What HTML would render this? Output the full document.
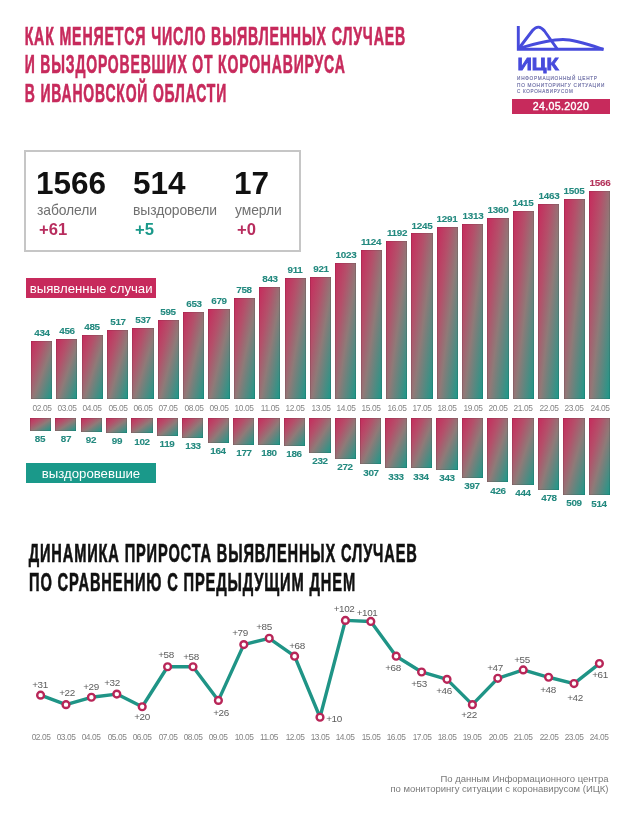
<!DOCTYPE html>
<html><head><meta charset="utf-8"><style>
html,body{margin:0;padding:0;background:#fff;}
body{width:635px;height:819px;position:relative;overflow:hidden;font-family:"Liberation Sans", sans-serif;}
.abs{position:absolute;left:0;top:0;}
.t{position:absolute;white-space:nowrap;line-height:1;will-change:transform;}
.bar{position:absolute;background:linear-gradient(to bottom right, #c72a5c 0%, #b4506a 30%, #8f7a78 55%, #1a998a 100%);box-shadow:inset 0 0 0 0.6px rgba(0,0,0,0.18);}
</style></head><body>
<div class="abs" style="left:512px;top:98.8px;width:97.5px;height:14.8px;background:#c72a5c"></div>
<div class="t" style="left:460.90px;top:101.22px;width:200px;text-align:center;font-size:10.6px;color:#fff;font-weight:normal;letter-spacing:0.35px;-webkit-text-stroke:0.4px #fff">24.05.2020</div>
<div class="abs" style="left:24px;top:150px;width:273px;height:98px;border:2px solid #c6c6c6"></div>
<div class="t" style="left:36.2px;top:167.79px;font-size:31.5px;font-weight:bold;color:#111">1566</div>
<div class="t" style="left:37px;top:203.77px;font-size:13.9px;color:#707070;letter-spacing:-0.1px">заболели</div>
<div class="t" style="left:38.6px;top:221.97px;font-size:16.6px;font-weight:bold;color:#b82d5e">+61</div>
<div class="t" style="left:132.6px;top:167.79px;font-size:31.5px;font-weight:bold;color:#111">514</div>
<div class="t" style="left:133.4px;top:203.77px;font-size:13.9px;color:#707070;letter-spacing:-0.1px">выздоровели</div>
<div class="t" style="left:135.0px;top:221.97px;font-size:16.6px;font-weight:bold;color:#1a998a">+5</div>
<div class="t" style="left:234.2px;top:167.79px;font-size:31.5px;font-weight:bold;color:#111">17</div>
<div class="t" style="left:235px;top:203.77px;font-size:13.9px;color:#707070;letter-spacing:-0.1px">умерли</div>
<div class="t" style="left:236.6px;top:221.97px;font-size:16.6px;font-weight:bold;color:#b82d5e">+0</div>
<div class="abs" style="left:26px;top:278.3px;width:130.3px;height:19.6px;background:#c72a5c"></div>
<div class="t" style="left:26px;top:282.20px;width:130.3px;text-align:center;font-size:13.2px;color:#fff;transform:scaleY(1.0);transform-origin:50% 11.17px">выявленные случаи</div>
<div class="abs" style="left:26px;top:463px;width:130px;height:20.4px;background:#1a998a"></div>
<div class="t" style="left:26px;top:467.20px;width:130px;text-align:center;font-size:13.2px;color:#fff;transform:scaleY(1.0);transform-origin:50% 11.17px">выздоровевшие</div>
<div class="bar" style="left:30.90px;top:341.43px;width:21.2px;height:57.77px"></div>
<div class="t" style="left:-58.50px;top:328.44px;width:200px;text-align:center;font-size:9.9px;color:#23897f;font-weight:bold;letter-spacing:-0.3px;-webkit-text-stroke:0.1px">434</div>
<div class="t" style="left:-58.50px;top:403.80px;width:200px;text-align:center;font-size:8.4px;color:#858585;font-weight:normal;letter-spacing:-0.4px">02.05</div>
<div class="bar" style="left:56.26px;top:338.51px;width:21.2px;height:60.69px"></div>
<div class="t" style="left:-33.14px;top:325.51px;width:200px;text-align:center;font-size:9.9px;color:#23897f;font-weight:bold;letter-spacing:-0.3px;-webkit-text-stroke:0.1px">456</div>
<div class="t" style="left:-33.14px;top:403.80px;width:200px;text-align:center;font-size:8.4px;color:#858585;font-weight:normal;letter-spacing:-0.4px">03.05</div>
<div class="bar" style="left:81.63px;top:334.65px;width:21.2px;height:64.55px"></div>
<div class="t" style="left:-7.77px;top:321.65px;width:200px;text-align:center;font-size:9.9px;color:#23897f;font-weight:bold;letter-spacing:-0.3px;-webkit-text-stroke:0.1px">485</div>
<div class="t" style="left:-7.77px;top:403.80px;width:200px;text-align:center;font-size:8.4px;color:#858585;font-weight:normal;letter-spacing:-0.4px">04.05</div>
<div class="bar" style="left:106.99px;top:330.39px;width:21.2px;height:68.81px"></div>
<div class="t" style="left:17.59px;top:317.40px;width:200px;text-align:center;font-size:9.9px;color:#23897f;font-weight:bold;letter-spacing:-0.3px;-webkit-text-stroke:0.1px">517</div>
<div class="t" style="left:17.59px;top:403.80px;width:200px;text-align:center;font-size:8.4px;color:#858585;font-weight:normal;letter-spacing:-0.4px">05.05</div>
<div class="bar" style="left:132.36px;top:327.73px;width:21.2px;height:71.47px"></div>
<div class="t" style="left:42.96px;top:314.73px;width:200px;text-align:center;font-size:9.9px;color:#23897f;font-weight:bold;letter-spacing:-0.3px;-webkit-text-stroke:0.1px">537</div>
<div class="t" style="left:42.96px;top:403.80px;width:200px;text-align:center;font-size:8.4px;color:#858585;font-weight:normal;letter-spacing:-0.4px">06.05</div>
<div class="bar" style="left:157.72px;top:320.01px;width:21.2px;height:79.19px"></div>
<div class="t" style="left:68.32px;top:307.01px;width:200px;text-align:center;font-size:9.9px;color:#23897f;font-weight:bold;letter-spacing:-0.3px;-webkit-text-stroke:0.1px">595</div>
<div class="t" style="left:68.32px;top:403.80px;width:200px;text-align:center;font-size:8.4px;color:#858585;font-weight:normal;letter-spacing:-0.4px">07.05</div>
<div class="bar" style="left:183.08px;top:312.29px;width:21.2px;height:86.91px"></div>
<div class="t" style="left:93.68px;top:299.29px;width:200px;text-align:center;font-size:9.9px;color:#23897f;font-weight:bold;letter-spacing:-0.3px;-webkit-text-stroke:0.1px">653</div>
<div class="t" style="left:93.68px;top:403.80px;width:200px;text-align:center;font-size:8.4px;color:#858585;font-weight:normal;letter-spacing:-0.4px">08.05</div>
<div class="bar" style="left:208.45px;top:308.83px;width:21.2px;height:90.37px"></div>
<div class="t" style="left:119.05px;top:295.83px;width:200px;text-align:center;font-size:9.9px;color:#23897f;font-weight:bold;letter-spacing:-0.3px;-webkit-text-stroke:0.1px">679</div>
<div class="t" style="left:119.05px;top:403.80px;width:200px;text-align:center;font-size:8.4px;color:#858585;font-weight:normal;letter-spacing:-0.4px">09.05</div>
<div class="bar" style="left:233.81px;top:298.31px;width:21.2px;height:100.89px"></div>
<div class="t" style="left:144.41px;top:285.32px;width:200px;text-align:center;font-size:9.9px;color:#23897f;font-weight:bold;letter-spacing:-0.3px;-webkit-text-stroke:0.1px">758</div>
<div class="t" style="left:144.41px;top:403.80px;width:200px;text-align:center;font-size:8.4px;color:#858585;font-weight:normal;letter-spacing:-0.4px">10.05</div>
<div class="bar" style="left:259.18px;top:287.00px;width:21.2px;height:112.20px"></div>
<div class="t" style="left:169.78px;top:274.00px;width:200px;text-align:center;font-size:9.9px;color:#23897f;font-weight:bold;letter-spacing:-0.3px;-webkit-text-stroke:0.1px">843</div>
<div class="t" style="left:169.78px;top:403.80px;width:200px;text-align:center;font-size:8.4px;color:#858585;font-weight:normal;letter-spacing:-0.4px">11.05</div>
<div class="bar" style="left:284.54px;top:277.95px;width:21.2px;height:121.25px"></div>
<div class="t" style="left:195.14px;top:264.95px;width:200px;text-align:center;font-size:9.9px;color:#23897f;font-weight:bold;letter-spacing:-0.3px;-webkit-text-stroke:0.1px">911</div>
<div class="t" style="left:195.14px;top:403.80px;width:200px;text-align:center;font-size:8.4px;color:#858585;font-weight:normal;letter-spacing:-0.4px">12.05</div>
<div class="bar" style="left:309.90px;top:276.61px;width:21.2px;height:122.59px"></div>
<div class="t" style="left:220.50px;top:263.62px;width:200px;text-align:center;font-size:9.9px;color:#23897f;font-weight:bold;letter-spacing:-0.3px;-webkit-text-stroke:0.1px">921</div>
<div class="t" style="left:220.50px;top:403.80px;width:200px;text-align:center;font-size:8.4px;color:#858585;font-weight:normal;letter-spacing:-0.4px">13.05</div>
<div class="bar" style="left:335.27px;top:263.04px;width:21.2px;height:136.16px"></div>
<div class="t" style="left:245.87px;top:250.05px;width:200px;text-align:center;font-size:9.9px;color:#23897f;font-weight:bold;letter-spacing:-0.3px;-webkit-text-stroke:0.1px">1023</div>
<div class="t" style="left:245.87px;top:403.80px;width:200px;text-align:center;font-size:8.4px;color:#858585;font-weight:normal;letter-spacing:-0.4px">14.05</div>
<div class="bar" style="left:360.63px;top:249.60px;width:21.2px;height:149.60px"></div>
<div class="t" style="left:271.23px;top:236.60px;width:200px;text-align:center;font-size:9.9px;color:#23897f;font-weight:bold;letter-spacing:-0.3px;-webkit-text-stroke:0.1px">1124</div>
<div class="t" style="left:271.23px;top:403.80px;width:200px;text-align:center;font-size:8.4px;color:#858585;font-weight:normal;letter-spacing:-0.4px">15.05</div>
<div class="bar" style="left:386.00px;top:240.54px;width:21.2px;height:158.66px"></div>
<div class="t" style="left:296.60px;top:227.55px;width:200px;text-align:center;font-size:9.9px;color:#23897f;font-weight:bold;letter-spacing:-0.3px;-webkit-text-stroke:0.1px">1192</div>
<div class="t" style="left:296.60px;top:403.80px;width:200px;text-align:center;font-size:8.4px;color:#858585;font-weight:normal;letter-spacing:-0.4px">16.05</div>
<div class="bar" style="left:411.36px;top:233.49px;width:21.2px;height:165.71px"></div>
<div class="t" style="left:321.96px;top:220.50px;width:200px;text-align:center;font-size:9.9px;color:#23897f;font-weight:bold;letter-spacing:-0.3px;-webkit-text-stroke:0.1px">1245</div>
<div class="t" style="left:321.96px;top:403.80px;width:200px;text-align:center;font-size:8.4px;color:#858585;font-weight:normal;letter-spacing:-0.4px">17.05</div>
<div class="bar" style="left:436.72px;top:227.37px;width:21.2px;height:171.83px"></div>
<div class="t" style="left:347.32px;top:214.38px;width:200px;text-align:center;font-size:9.9px;color:#23897f;font-weight:bold;letter-spacing:-0.3px;-webkit-text-stroke:0.1px">1291</div>
<div class="t" style="left:347.32px;top:403.80px;width:200px;text-align:center;font-size:8.4px;color:#858585;font-weight:normal;letter-spacing:-0.4px">18.05</div>
<div class="bar" style="left:462.09px;top:224.44px;width:21.2px;height:174.76px"></div>
<div class="t" style="left:372.69px;top:211.45px;width:200px;text-align:center;font-size:9.9px;color:#23897f;font-weight:bold;letter-spacing:-0.3px;-webkit-text-stroke:0.1px">1313</div>
<div class="t" style="left:372.69px;top:403.80px;width:200px;text-align:center;font-size:8.4px;color:#858585;font-weight:normal;letter-spacing:-0.4px">19.05</div>
<div class="bar" style="left:487.45px;top:218.18px;width:21.2px;height:181.02px"></div>
<div class="t" style="left:398.05px;top:205.19px;width:200px;text-align:center;font-size:9.9px;color:#23897f;font-weight:bold;letter-spacing:-0.3px;-webkit-text-stroke:0.1px">1360</div>
<div class="t" style="left:398.05px;top:403.80px;width:200px;text-align:center;font-size:8.4px;color:#858585;font-weight:normal;letter-spacing:-0.4px">20.05</div>
<div class="bar" style="left:512.82px;top:210.86px;width:21.2px;height:188.34px"></div>
<div class="t" style="left:423.42px;top:197.87px;width:200px;text-align:center;font-size:9.9px;color:#23897f;font-weight:bold;letter-spacing:-0.3px;-webkit-text-stroke:0.1px">1415</div>
<div class="t" style="left:423.42px;top:403.80px;width:200px;text-align:center;font-size:8.4px;color:#858585;font-weight:normal;letter-spacing:-0.4px">21.05</div>
<div class="bar" style="left:538.18px;top:204.47px;width:21.2px;height:194.73px"></div>
<div class="t" style="left:448.78px;top:191.48px;width:200px;text-align:center;font-size:9.9px;color:#23897f;font-weight:bold;letter-spacing:-0.3px;-webkit-text-stroke:0.1px">1463</div>
<div class="t" style="left:448.78px;top:403.80px;width:200px;text-align:center;font-size:8.4px;color:#858585;font-weight:normal;letter-spacing:-0.4px">22.05</div>
<div class="bar" style="left:563.54px;top:198.88px;width:21.2px;height:200.32px"></div>
<div class="t" style="left:474.14px;top:185.89px;width:200px;text-align:center;font-size:9.9px;color:#23897f;font-weight:bold;letter-spacing:-0.3px;-webkit-text-stroke:0.1px">1505</div>
<div class="t" style="left:474.14px;top:403.80px;width:200px;text-align:center;font-size:8.4px;color:#858585;font-weight:normal;letter-spacing:-0.4px">23.05</div>
<div class="bar" style="left:588.91px;top:190.77px;width:21.2px;height:208.43px"></div>
<div class="t" style="left:499.51px;top:177.77px;width:200px;text-align:center;font-size:9.9px;color:#b3325a;font-weight:bold;letter-spacing:-0.3px;-webkit-text-stroke:0.1px">1566</div>
<div class="t" style="left:499.51px;top:403.80px;width:200px;text-align:center;font-size:8.4px;color:#858585;font-weight:normal;letter-spacing:-0.4px">24.05</div>
<div class="bar" style="left:29.70px;top:418.20px;width:21.3px;height:12.62px"></div>
<div class="t" style="left:-59.70px;top:434.13px;width:200px;text-align:center;font-size:9.9px;color:#23897f;font-weight:bold;letter-spacing:-0.3px;-webkit-text-stroke:0.1px">85</div>
<div class="bar" style="left:55.11px;top:418.20px;width:21.3px;height:12.92px"></div>
<div class="t" style="left:-34.29px;top:434.43px;width:200px;text-align:center;font-size:9.9px;color:#23897f;font-weight:bold;letter-spacing:-0.3px;-webkit-text-stroke:0.1px">87</div>
<div class="bar" style="left:80.52px;top:418.20px;width:21.3px;height:13.67px"></div>
<div class="t" style="left:-8.88px;top:435.18px;width:200px;text-align:center;font-size:9.9px;color:#23897f;font-weight:bold;letter-spacing:-0.3px;-webkit-text-stroke:0.1px">92</div>
<div class="bar" style="left:105.93px;top:418.20px;width:21.3px;height:14.73px"></div>
<div class="t" style="left:16.53px;top:436.24px;width:200px;text-align:center;font-size:9.9px;color:#23897f;font-weight:bold;letter-spacing:-0.3px;-webkit-text-stroke:0.1px">99</div>
<div class="bar" style="left:131.34px;top:418.20px;width:21.3px;height:15.18px"></div>
<div class="t" style="left:41.94px;top:436.69px;width:200px;text-align:center;font-size:9.9px;color:#23897f;font-weight:bold;letter-spacing:-0.3px;-webkit-text-stroke:0.1px">102</div>
<div class="bar" style="left:156.75px;top:418.20px;width:21.3px;height:17.75px"></div>
<div class="t" style="left:67.35px;top:439.25px;width:200px;text-align:center;font-size:9.9px;color:#23897f;font-weight:bold;letter-spacing:-0.3px;-webkit-text-stroke:0.1px">119</div>
<div class="bar" style="left:182.16px;top:418.20px;width:21.3px;height:19.86px"></div>
<div class="t" style="left:92.76px;top:441.36px;width:200px;text-align:center;font-size:9.9px;color:#23897f;font-weight:bold;letter-spacing:-0.3px;-webkit-text-stroke:0.1px">133</div>
<div class="bar" style="left:207.57px;top:418.20px;width:21.3px;height:24.53px"></div>
<div class="t" style="left:118.17px;top:446.04px;width:200px;text-align:center;font-size:9.9px;color:#23897f;font-weight:bold;letter-spacing:-0.3px;-webkit-text-stroke:0.1px">164</div>
<div class="bar" style="left:232.98px;top:418.20px;width:21.3px;height:26.49px"></div>
<div class="t" style="left:143.58px;top:448.00px;width:200px;text-align:center;font-size:9.9px;color:#23897f;font-weight:bold;letter-spacing:-0.3px;-webkit-text-stroke:0.1px">177</div>
<div class="bar" style="left:258.39px;top:418.20px;width:21.3px;height:26.94px"></div>
<div class="t" style="left:168.99px;top:448.45px;width:200px;text-align:center;font-size:9.9px;color:#23897f;font-weight:bold;letter-spacing:-0.3px;-webkit-text-stroke:0.1px">180</div>
<div class="bar" style="left:283.80px;top:418.20px;width:21.3px;height:27.85px"></div>
<div class="t" style="left:194.40px;top:449.36px;width:200px;text-align:center;font-size:9.9px;color:#23897f;font-weight:bold;letter-spacing:-0.3px;-webkit-text-stroke:0.1px">186</div>
<div class="bar" style="left:309.21px;top:418.20px;width:21.3px;height:34.79px"></div>
<div class="t" style="left:219.81px;top:456.29px;width:200px;text-align:center;font-size:9.9px;color:#23897f;font-weight:bold;letter-spacing:-0.3px;-webkit-text-stroke:0.1px">232</div>
<div class="bar" style="left:334.62px;top:418.20px;width:21.3px;height:40.82px"></div>
<div class="t" style="left:245.22px;top:462.33px;width:200px;text-align:center;font-size:9.9px;color:#23897f;font-weight:bold;letter-spacing:-0.3px;-webkit-text-stroke:0.1px">272</div>
<div class="bar" style="left:360.03px;top:418.20px;width:21.3px;height:46.10px"></div>
<div class="t" style="left:270.63px;top:467.60px;width:200px;text-align:center;font-size:9.9px;color:#23897f;font-weight:bold;letter-spacing:-0.3px;-webkit-text-stroke:0.1px">307</div>
<div class="bar" style="left:385.44px;top:418.20px;width:21.3px;height:50.02px"></div>
<div class="t" style="left:296.04px;top:471.52px;width:200px;text-align:center;font-size:9.9px;color:#23897f;font-weight:bold;letter-spacing:-0.3px;-webkit-text-stroke:0.1px">333</div>
<div class="bar" style="left:410.85px;top:418.20px;width:21.3px;height:50.17px"></div>
<div class="t" style="left:321.45px;top:471.68px;width:200px;text-align:center;font-size:9.9px;color:#23897f;font-weight:bold;letter-spacing:-0.3px;-webkit-text-stroke:0.1px">334</div>
<div class="bar" style="left:436.26px;top:418.20px;width:21.3px;height:51.52px"></div>
<div class="t" style="left:346.86px;top:473.03px;width:200px;text-align:center;font-size:9.9px;color:#23897f;font-weight:bold;letter-spacing:-0.3px;-webkit-text-stroke:0.1px">343</div>
<div class="bar" style="left:461.67px;top:418.20px;width:21.3px;height:59.67px"></div>
<div class="t" style="left:372.27px;top:481.18px;width:200px;text-align:center;font-size:9.9px;color:#23897f;font-weight:bold;letter-spacing:-0.3px;-webkit-text-stroke:0.1px">397</div>
<div class="bar" style="left:487.08px;top:418.20px;width:21.3px;height:64.04px"></div>
<div class="t" style="left:397.68px;top:485.55px;width:200px;text-align:center;font-size:9.9px;color:#23897f;font-weight:bold;letter-spacing:-0.3px;-webkit-text-stroke:0.1px">426</div>
<div class="bar" style="left:512.49px;top:418.20px;width:21.3px;height:66.76px"></div>
<div class="t" style="left:423.09px;top:488.26px;width:200px;text-align:center;font-size:9.9px;color:#23897f;font-weight:bold;letter-spacing:-0.3px;-webkit-text-stroke:0.1px">444</div>
<div class="bar" style="left:537.90px;top:418.20px;width:21.3px;height:71.88px"></div>
<div class="t" style="left:448.50px;top:493.39px;width:200px;text-align:center;font-size:9.9px;color:#23897f;font-weight:bold;letter-spacing:-0.3px;-webkit-text-stroke:0.1px">478</div>
<div class="bar" style="left:563.31px;top:418.20px;width:21.3px;height:76.56px"></div>
<div class="t" style="left:473.91px;top:498.07px;width:200px;text-align:center;font-size:9.9px;color:#23897f;font-weight:bold;letter-spacing:-0.3px;-webkit-text-stroke:0.1px">509</div>
<div class="bar" style="left:588.72px;top:418.20px;width:21.3px;height:77.31px"></div>
<div class="t" style="left:499.32px;top:498.82px;width:200px;text-align:center;font-size:9.9px;color:#23897f;font-weight:bold;letter-spacing:-0.3px;-webkit-text-stroke:0.1px">514</div>
<div class="t" style="left:-59.80px;top:679.71px;width:200px;text-align:center;font-size:9.9px;color:#5c5c5c;font-weight:normal;letter-spacing:-0.4px">+31</div>
<div class="t" style="left:-59.40px;top:732.50px;width:200px;text-align:center;font-size:8.4px;color:#858585;font-weight:normal;letter-spacing:-0.45px">02.05</div>
<div class="t" style="left:-32.80px;top:688.31px;width:200px;text-align:center;font-size:9.9px;color:#5c5c5c;font-weight:normal;letter-spacing:-0.4px">+22</div>
<div class="t" style="left:-34.00px;top:732.50px;width:200px;text-align:center;font-size:8.4px;color:#858585;font-weight:normal;letter-spacing:-0.45px">03.05</div>
<div class="t" style="left:-9.10px;top:682.01px;width:200px;text-align:center;font-size:9.9px;color:#5c5c5c;font-weight:normal;letter-spacing:-0.4px">+29</div>
<div class="t" style="left:-8.60px;top:732.50px;width:200px;text-align:center;font-size:8.4px;color:#858585;font-weight:normal;letter-spacing:-0.45px">04.05</div>
<div class="t" style="left:11.90px;top:677.61px;width:200px;text-align:center;font-size:9.9px;color:#5c5c5c;font-weight:normal;letter-spacing:-0.4px">+32</div>
<div class="t" style="left:16.80px;top:732.50px;width:200px;text-align:center;font-size:8.4px;color:#858585;font-weight:normal;letter-spacing:-0.45px">05.05</div>
<div class="t" style="left:42.40px;top:712.01px;width:200px;text-align:center;font-size:9.9px;color:#5c5c5c;font-weight:normal;letter-spacing:-0.4px">+20</div>
<div class="t" style="left:42.20px;top:732.50px;width:200px;text-align:center;font-size:8.4px;color:#858585;font-weight:normal;letter-spacing:-0.45px">06.05</div>
<div class="t" style="left:65.80px;top:649.81px;width:200px;text-align:center;font-size:9.9px;color:#5c5c5c;font-weight:normal;letter-spacing:-0.4px">+58</div>
<div class="t" style="left:67.60px;top:732.50px;width:200px;text-align:center;font-size:8.4px;color:#858585;font-weight:normal;letter-spacing:-0.45px">07.05</div>
<div class="t" style="left:91.20px;top:652.21px;width:200px;text-align:center;font-size:9.9px;color:#5c5c5c;font-weight:normal;letter-spacing:-0.4px">+58</div>
<div class="t" style="left:93.00px;top:732.50px;width:200px;text-align:center;font-size:8.4px;color:#858585;font-weight:normal;letter-spacing:-0.45px">08.05</div>
<div class="t" style="left:120.60px;top:707.51px;width:200px;text-align:center;font-size:9.9px;color:#5c5c5c;font-weight:normal;letter-spacing:-0.4px">+26</div>
<div class="t" style="left:118.40px;top:732.50px;width:200px;text-align:center;font-size:8.4px;color:#858585;font-weight:normal;letter-spacing:-0.45px">09.05</div>
<div class="t" style="left:140.20px;top:628.21px;width:200px;text-align:center;font-size:9.9px;color:#5c5c5c;font-weight:normal;letter-spacing:-0.4px">+79</div>
<div class="t" style="left:143.80px;top:732.50px;width:200px;text-align:center;font-size:8.4px;color:#858585;font-weight:normal;letter-spacing:-0.45px">10.05</div>
<div class="t" style="left:163.70px;top:621.61px;width:200px;text-align:center;font-size:9.9px;color:#5c5c5c;font-weight:normal;letter-spacing:-0.4px">+85</div>
<div class="t" style="left:169.20px;top:732.50px;width:200px;text-align:center;font-size:8.4px;color:#858585;font-weight:normal;letter-spacing:-0.45px">11.05</div>
<div class="t" style="left:197.00px;top:640.81px;width:200px;text-align:center;font-size:9.9px;color:#5c5c5c;font-weight:normal;letter-spacing:-0.4px">+68</div>
<div class="t" style="left:194.60px;top:732.50px;width:200px;text-align:center;font-size:8.4px;color:#858585;font-weight:normal;letter-spacing:-0.45px">12.05</div>
<div class="t" style="left:234.30px;top:713.81px;width:200px;text-align:center;font-size:9.9px;color:#5c5c5c;font-weight:normal;letter-spacing:-0.4px">+10</div>
<div class="t" style="left:220.00px;top:732.50px;width:200px;text-align:center;font-size:8.4px;color:#858585;font-weight:normal;letter-spacing:-0.45px">13.05</div>
<div class="t" style="left:243.50px;top:603.51px;width:200px;text-align:center;font-size:9.9px;color:#5c5c5c;font-weight:normal;letter-spacing:-0.4px">+102</div>
<div class="t" style="left:245.40px;top:732.50px;width:200px;text-align:center;font-size:8.4px;color:#858585;font-weight:normal;letter-spacing:-0.45px">14.05</div>
<div class="t" style="left:266.90px;top:608.01px;width:200px;text-align:center;font-size:9.9px;color:#5c5c5c;font-weight:normal;letter-spacing:-0.4px">+101</div>
<div class="t" style="left:270.80px;top:732.50px;width:200px;text-align:center;font-size:8.4px;color:#858585;font-weight:normal;letter-spacing:-0.45px">15.05</div>
<div class="t" style="left:293.40px;top:662.91px;width:200px;text-align:center;font-size:9.9px;color:#5c5c5c;font-weight:normal;letter-spacing:-0.4px">+68</div>
<div class="t" style="left:296.20px;top:732.50px;width:200px;text-align:center;font-size:8.4px;color:#858585;font-weight:normal;letter-spacing:-0.45px">16.05</div>
<div class="t" style="left:318.90px;top:679.01px;width:200px;text-align:center;font-size:9.9px;color:#5c5c5c;font-weight:normal;letter-spacing:-0.4px">+53</div>
<div class="t" style="left:321.60px;top:732.50px;width:200px;text-align:center;font-size:8.4px;color:#858585;font-weight:normal;letter-spacing:-0.45px">17.05</div>
<div class="t" style="left:344.20px;top:685.71px;width:200px;text-align:center;font-size:9.9px;color:#5c5c5c;font-weight:normal;letter-spacing:-0.4px">+46</div>
<div class="t" style="left:347.00px;top:732.50px;width:200px;text-align:center;font-size:8.4px;color:#858585;font-weight:normal;letter-spacing:-0.45px">18.05</div>
<div class="t" style="left:368.60px;top:709.81px;width:200px;text-align:center;font-size:9.9px;color:#5c5c5c;font-weight:normal;letter-spacing:-0.4px">+22</div>
<div class="t" style="left:372.40px;top:732.50px;width:200px;text-align:center;font-size:8.4px;color:#858585;font-weight:normal;letter-spacing:-0.45px">19.05</div>
<div class="t" style="left:394.80px;top:663.01px;width:200px;text-align:center;font-size:9.9px;color:#5c5c5c;font-weight:normal;letter-spacing:-0.4px">+47</div>
<div class="t" style="left:397.80px;top:732.50px;width:200px;text-align:center;font-size:8.4px;color:#858585;font-weight:normal;letter-spacing:-0.45px">20.05</div>
<div class="t" style="left:421.80px;top:654.71px;width:200px;text-align:center;font-size:9.9px;color:#5c5c5c;font-weight:normal;letter-spacing:-0.4px">+55</div>
<div class="t" style="left:423.20px;top:732.50px;width:200px;text-align:center;font-size:8.4px;color:#858585;font-weight:normal;letter-spacing:-0.45px">21.05</div>
<div class="t" style="left:447.70px;top:684.91px;width:200px;text-align:center;font-size:9.9px;color:#5c5c5c;font-weight:normal;letter-spacing:-0.4px">+48</div>
<div class="t" style="left:448.60px;top:732.50px;width:200px;text-align:center;font-size:8.4px;color:#858585;font-weight:normal;letter-spacing:-0.45px">22.05</div>
<div class="t" style="left:474.90px;top:693.01px;width:200px;text-align:center;font-size:9.9px;color:#5c5c5c;font-weight:normal;letter-spacing:-0.4px">+42</div>
<div class="t" style="left:474.00px;top:732.50px;width:200px;text-align:center;font-size:8.4px;color:#858585;font-weight:normal;letter-spacing:-0.45px">23.05</div>
<div class="t" style="left:500.10px;top:669.81px;width:200px;text-align:center;font-size:9.9px;color:#5c5c5c;font-weight:normal;letter-spacing:-0.4px">+61</div>
<div class="t" style="left:499.40px;top:732.50px;width:200px;text-align:center;font-size:8.4px;color:#858585;font-weight:normal;letter-spacing:-0.45px">24.05</div>
<div class="t" style="left:300px;width:308.5px;text-align:right;top:774.09px;font-size:9.5px;color:#7a7a7a">По данным Информационного центра</div>
<div class="t" style="left:300px;width:308.5px;text-align:right;top:783.87px;font-size:9.5px;color:#7a7a7a">по мониторингу ситуации с коронавирусом (ИЦК)</div>
<svg class="abs" style="will-change:transform" width="635" height="819" viewBox="0 0 635 819">
<text x="24.625" y="44.5" font-family="Liberation Sans" font-weight="bold" font-size="25.7" fill="#c72a5c" stroke="#c72a5c" stroke-width="0.65" stroke-linejoin="miter" letter-spacing="1.5" textLength="381.45000000000005" lengthAdjust="spacingAndGlyphs">КАК МЕНЯЕТСЯ ЧИСЛО ВЫЯВЛЕННЫХ СЛУЧАЕВ</text>
<text x="24.724999999999998" y="73.3" font-family="Liberation Sans" font-weight="bold" font-size="25.7" fill="#c72a5c" stroke="#c72a5c" stroke-width="0.65" stroke-linejoin="miter" letter-spacing="1.5" textLength="320.85" lengthAdjust="spacingAndGlyphs">И ВЫЗДОРОВЕВШИХ ОТ КОРОНАВИРУСА</text>
<text x="24.825" y="101.8" font-family="Liberation Sans" font-weight="bold" font-size="25.7" fill="#c72a5c" stroke="#c72a5c" stroke-width="0.65" stroke-linejoin="miter" letter-spacing="1.5" textLength="202.25" lengthAdjust="spacingAndGlyphs">В ИВАНОВСКОЙ ОБЛАСТИ</text>
<text x="28.724999999999998" y="561.8" font-family="Liberation Sans" font-weight="bold" font-size="25.7" fill="#111111" stroke="#111111" stroke-width="0.65" stroke-linejoin="miter" letter-spacing="1.5" textLength="388.95000000000005" lengthAdjust="spacingAndGlyphs">ДИНАМИКА ПРИРОСТА ВЫЯВЛЕННЫХ СЛУЧАЕВ</text>
<text x="29.025" y="590.8" font-family="Liberation Sans" font-weight="bold" font-size="25.7" fill="#111111" stroke="#111111" stroke-width="0.65" stroke-linejoin="miter" letter-spacing="1.5" textLength="326.95000000000005" lengthAdjust="spacingAndGlyphs">ПО СРАВНЕНИЮ С ПРЕДЫДУЩИМ ДНЕМ</text>
<g fill="none" stroke="#474bdc" stroke-width="2.9"><path d="M518.3,25.9 V49.3 H603.6" stroke-linejoin="miter"/><path d="M518.8,48.5 L532.5,30.5 Q538.5,23.5 544.5,31 L557.3,49.2"/><path d="M518.8,48.5 C538,42.8 551,39.5 563,39.5 C575,39.5 589,44.5 603.4,49.3"/></g>
<text x="517.5" y="69.7" font-family="Liberation Sans" font-weight="bold" font-size="16.6" fill="#474bdc" stroke="#474bdc" stroke-width="0.8" textLength="41.2" lengthAdjust="spacingAndGlyphs">ИЦК</text>
<text x="517.1" y="80.2" font-family="Liberation Sans" font-weight="normal" font-size="6.0" fill="#7273a8" stroke="#7273a8" stroke-width="0.2" letter-spacing="0.9" textLength="80.6" lengthAdjust="spacingAndGlyphs">ИНФОРМАЦИОННЫЙ ЦЕНТР</text>
<text x="517.1" y="86.5" font-family="Liberation Sans" font-weight="normal" font-size="6.0" fill="#7273a8" stroke="#7273a8" stroke-width="0.2" letter-spacing="0.9" textLength="87.9" lengthAdjust="spacingAndGlyphs">ПО МОНИТОРИНГУ СИТУАЦИИ</text>
<text x="517.1" y="93.1" font-family="Liberation Sans" font-weight="normal" font-size="6.0" fill="#7273a8" stroke="#7273a8" stroke-width="0.2" letter-spacing="0.9" textLength="56.4" lengthAdjust="spacingAndGlyphs">С КОРОНАВИРУСОМ</text>
<polyline points="40.60,695.16 66.00,704.63 91.40,697.26 116.80,694.10 142.20,706.74 167.60,666.73 193.00,666.73 218.40,700.42 243.80,644.61 269.20,638.29 294.60,656.20 320.00,717.27 345.40,620.39 370.80,621.45 396.20,656.20 421.60,671.99 447.00,679.36 472.40,704.63 497.80,678.31 523.20,669.88 548.60,677.26 574.00,683.57 599.40,663.57" fill="none" stroke="#1f9486" stroke-width="3.4" stroke-linejoin="round" stroke-linecap="round"/>
<circle cx="40.60" cy="695.16" r="3.4" fill="#fff" stroke="#b82658" stroke-width="2.4"/>
<circle cx="66.00" cy="704.63" r="3.4" fill="#fff" stroke="#b82658" stroke-width="2.4"/>
<circle cx="91.40" cy="697.26" r="3.4" fill="#fff" stroke="#b82658" stroke-width="2.4"/>
<circle cx="116.80" cy="694.10" r="3.4" fill="#fff" stroke="#b82658" stroke-width="2.4"/>
<circle cx="142.20" cy="706.74" r="3.4" fill="#fff" stroke="#b82658" stroke-width="2.4"/>
<circle cx="167.60" cy="666.73" r="3.4" fill="#fff" stroke="#b82658" stroke-width="2.4"/>
<circle cx="193.00" cy="666.73" r="3.4" fill="#fff" stroke="#b82658" stroke-width="2.4"/>
<circle cx="218.40" cy="700.42" r="3.4" fill="#fff" stroke="#b82658" stroke-width="2.4"/>
<circle cx="243.80" cy="644.61" r="3.4" fill="#fff" stroke="#b82658" stroke-width="2.4"/>
<circle cx="269.20" cy="638.29" r="3.4" fill="#fff" stroke="#b82658" stroke-width="2.4"/>
<circle cx="294.60" cy="656.20" r="3.4" fill="#fff" stroke="#b82658" stroke-width="2.4"/>
<circle cx="320.00" cy="717.27" r="3.4" fill="#fff" stroke="#b82658" stroke-width="2.4"/>
<circle cx="345.40" cy="620.39" r="3.4" fill="#fff" stroke="#b82658" stroke-width="2.4"/>
<circle cx="370.80" cy="621.45" r="3.4" fill="#fff" stroke="#b82658" stroke-width="2.4"/>
<circle cx="396.20" cy="656.20" r="3.4" fill="#fff" stroke="#b82658" stroke-width="2.4"/>
<circle cx="421.60" cy="671.99" r="3.4" fill="#fff" stroke="#b82658" stroke-width="2.4"/>
<circle cx="447.00" cy="679.36" r="3.4" fill="#fff" stroke="#b82658" stroke-width="2.4"/>
<circle cx="472.40" cy="704.63" r="3.4" fill="#fff" stroke="#b82658" stroke-width="2.4"/>
<circle cx="497.80" cy="678.31" r="3.4" fill="#fff" stroke="#b82658" stroke-width="2.4"/>
<circle cx="523.20" cy="669.88" r="3.4" fill="#fff" stroke="#b82658" stroke-width="2.4"/>
<circle cx="548.60" cy="677.26" r="3.4" fill="#fff" stroke="#b82658" stroke-width="2.4"/>
<circle cx="574.00" cy="683.57" r="3.4" fill="#fff" stroke="#b82658" stroke-width="2.4"/>
<circle cx="599.40" cy="663.57" r="3.4" fill="#fff" stroke="#b82658" stroke-width="2.4"/>
</svg>
</body></html>
